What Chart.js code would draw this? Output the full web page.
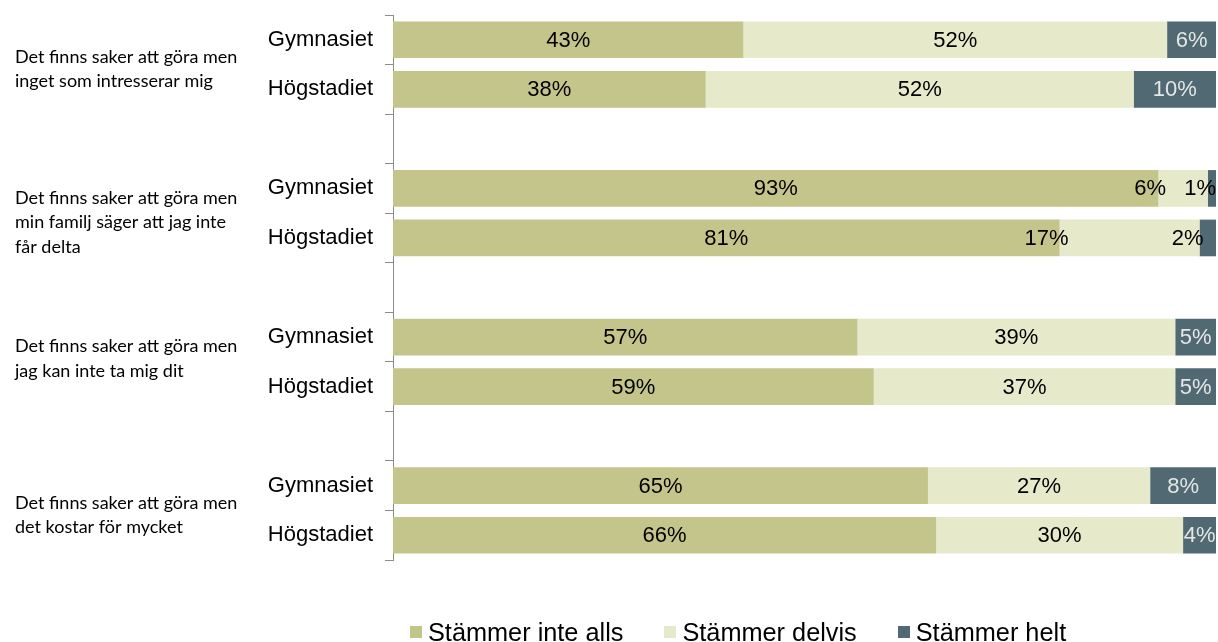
<!DOCTYPE html>
<html>
<head>
<meta charset="utf-8">
<script src="https://cdn.jsdelivr.net/npm/chart.js@4/dist/chart.umd.min.js"></script>
<style>
  html, body { margin: 0; padding: 0; background: #fff; }
  #wrap { position: relative; width: 1218px; height: 642px; overflow: hidden; }
  #legend { position: absolute; left: 410px; top: 619px; display: flex; gap: 41px;
            font-family: 'Liberation Sans', Arial, sans-serif; font-size: 25.3px; line-height: 26px; color: #000; white-space: nowrap; }
  #legend .item { display: flex; align-items: center; }
  #legend .box { width: 12px; height: 12px; margin-right: 6px; }
</style>
</head>
<body>
<div id="wrap">
  <canvas id="c" width="1218" height="642"></canvas>
  <div id="legend"></div>
</div>
<script>
// ---- data ----
const groups = [
  ['Det finns saker att göra men', 'inget som intresserar mig'],
  ['Det finns saker att göra men', 'min familj säger att jag inte', 'får delta'],
  ['Det finns saker att göra men', 'jag kan inte ta mig dit'],
  ['Det finns saker att göra men', 'det kostar för mycket']
];
const levels = ['Gymnasiet', 'Högstadiet'];
const seriesNames = ['Stämmer inte alls', 'Stämmer delvis', 'Stämmer helt'];
// one value per bar, in order: group1 Gymnasiet, group1 Högstadiet, group2 Gymnasiet, ...
const stammerInteAlls = [43, 38, 93, 81, 57, 59, 65, 66];
const stammerDelvis   = [52, 52, 6, 17, 39, 37, 27, 30];
const stammerHelt     = [6, 10, 1, 2, 5, 5, 8, 4];

// ---- styles / layout (not data) ----
const colors = ['#C4C58A', '#E6EACB', '#506973'];
const labelColors = ['#000000', '#000000', '#E6E6E6'];
const groupLabelShift = [4.5, 9.5, -3, 4.5];   // px offset of group label blocks
const labelNudge = { '2-1': -33, '3-1': -83, '3-2': -20 }; // manual label moves (bar-series)

// ---- build the category slots (pairs of bars separated by an empty slot) ----
const raw = [stammerInteAlls, stammerDelvis, stammerHelt];
const slotLabels = [];
const slotBar = [];  // bar index per slot or -1 for gap
groups.forEach((g, gi) => {
  levels.forEach((lv, li) => { slotLabels.push(lv); slotBar.push(gi * levels.length + li); });
  if (gi < groups.length - 1) { slotLabels.push(''); slotBar.push(-1); }
});
const totals = stammerInteAlls.map((v, i) => v + stammerDelvis[i] + stammerHelt[i]);
const datasets = raw.map((arr, si) => ({
  label: seriesNames[si],
  data: slotBar.map(b => b < 0 ? null : arr[b] / totals[b] * 100),
  rawValues: slotBar.map(b => b < 0 ? null : arr[b]),
  backgroundColor: colors[si],
  borderWidth: 0,
  barPercentage: 0.74,
  categoryPercentage: 1
}));

// ---- plugins ----
const groupLabelPlugin = {
  id: 'groupLabels',
  afterDraw(chart) {
    const ctx = chart.ctx, y = chart.scales.y;
    ctx.save();
    ctx.font = '18px Lato';
    ctx.fillStyle = '#000';
    ctx.textAlign = 'left';
    ctx.textBaseline = 'middle';
    const lh = 24.5;
    groups.forEach((lines, gi) => {
      const first = slotBar.indexOf(gi * levels.length);
      const last = slotBar.indexOf(gi * levels.length + levels.length - 1);
      const cy = (y.getPixelForValue(first) + y.getPixelForValue(last)) / 2 + groupLabelShift[gi];
      lines.forEach((t, k) => {
        ctx.fillText(t, 15, cy + (k - (lines.length - 1) / 2) * lh);
      });
    });
    ctx.restore();
  }
};

const barLabelPlugin = {
  id: 'barLabels',
  afterDatasetsDraw(chart) {
    const ctx = chart.ctx, area = chart.chartArea;
    ctx.save();
    ctx.font = '22px "Liberation Sans"';
    ctx.textAlign = 'center';
    ctx.textBaseline = 'middle';
    chart.data.datasets.forEach((ds, si) => {
      const meta = chart.getDatasetMeta(si);
      meta.data.forEach((el, i) => {
        const v = ds.rawValues[i];
        if (v == null) return;
        const txt = v + '%';
        const w = ctx.measureText(txt).width;
        const segW = Math.abs(el.x - el.base);
        let x = (el.x + el.base) / 2 + (labelNudge[slotBar[i] + '-' + si] || 0);
        if (x + w / 2 > area.right) x = area.right - w / 2;
        ctx.fillStyle = segW < 20 ? '#000000' : labelColors[si];
        ctx.fillText(txt, x, el.y + 1);
      });
    });
    ctx.restore();
  }
};

new Chart(document.getElementById('c'), {
  type: 'bar',
  data: { labels: slotLabels, datasets },
  options: {
    indexAxis: 'y',
    responsive: false,
    animation: false,
    layout: { padding: { top: 15, right: 2, left: 0, bottom: 0 } },
    plugins: { legend: { display: false }, tooltip: { enabled: false } },
    scales: {
      x: {
        stacked: true, min: 0, max: 100,
        ticks: { display: false },
        grid: { display: false },
        border: { display: false },
        afterFit(s) { s.height = 82; s.paddingLeft = 0; s.paddingRight = 0; }
      },
      y: {
        stacked: true,
        offset: true,
        grid: { display: true, drawOnChartArea: false, drawTicks: true, tickLength: 8, color: '#8c8c8c', offset: true },
        border: { display: true, color: '#8c8c8c', width: 1 },
        ticks: { autoSkip: false, color: '#000', padding: 12, font: { family: 'Liberation Sans', size: 22 } },
        afterFit(s) { s.width = 393; s.paddingTop = 0; s.paddingBottom = 0; }
      }
    }
  },
  plugins: [groupLabelPlugin, barLabelPlugin]
});

// ---- legend (HTML) ----
const lg = document.getElementById('legend');
seriesNames.forEach((n, i) => {
  const it = document.createElement('div'); it.className = 'item';
  const b = document.createElement('span'); b.className = 'box'; b.style.background = colors[i];
  const t = document.createElement('span'); t.textContent = n;
  it.appendChild(b); it.appendChild(t); lg.appendChild(it);
});
</script>
</body>
</html>
